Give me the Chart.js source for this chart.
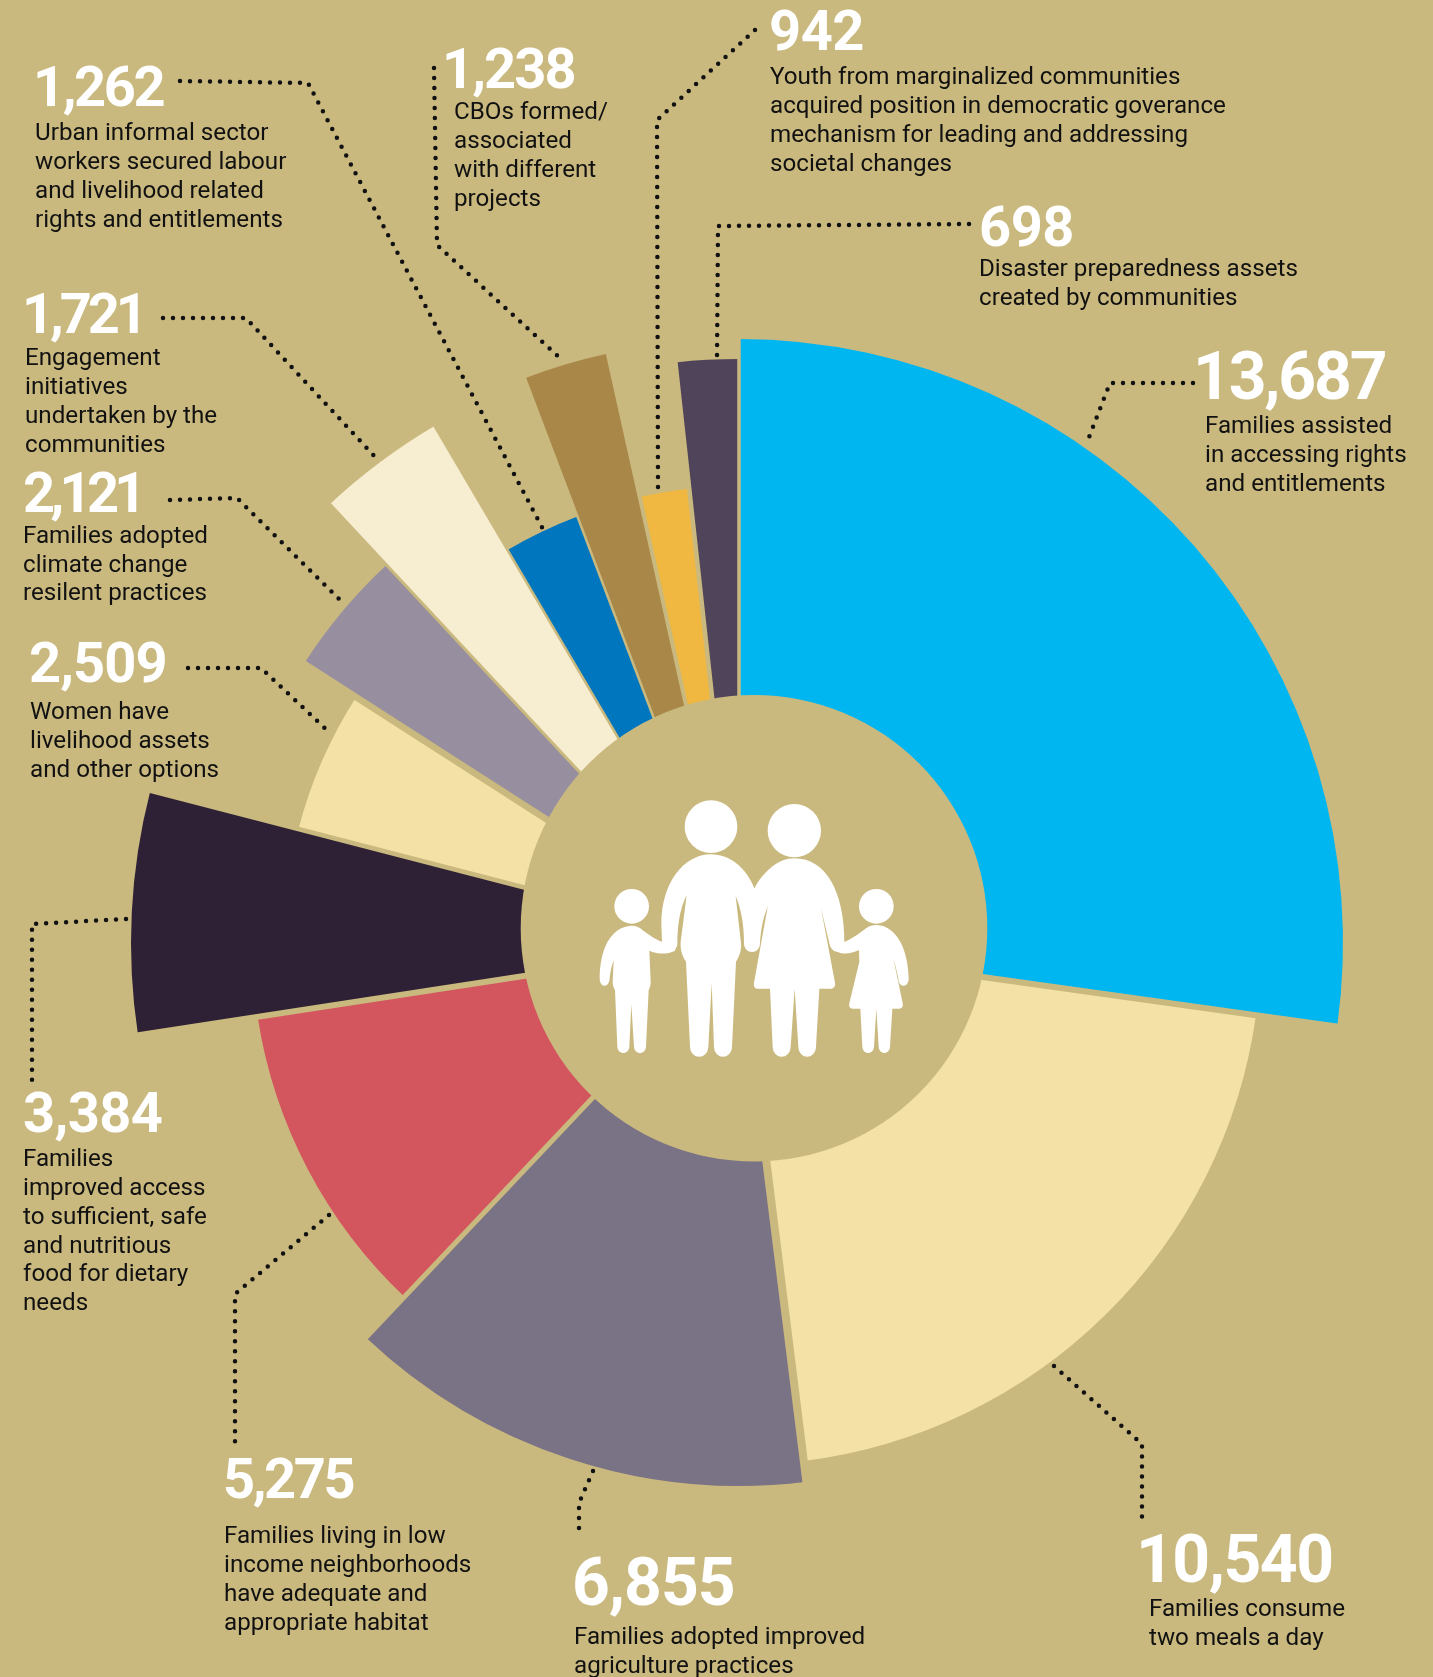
<!DOCTYPE html>
<html><head><meta charset="utf-8">
<script src="https://cdn.jsdelivr.net/npm/chart.js@4"></script>
<style>
html,body{margin:0;padding:0;background:#CAB97E;}
#wrap{position:relative;width:1433px;height:1677px;overflow:hidden;background:#CAB97E;}
canvas{position:absolute;left:0;top:0;}
.num{position:absolute;color:#fff;font-family:Roboto,sans-serif;font-weight:700;line-height:1;white-space:nowrap;}
.desc{position:absolute;color:#111;font-family:Roboto,sans-serif;font-weight:400;font-size:24.2px;line-height:28.8px;white-space:pre;}
</style></head>
<body><div id="wrap"><canvas id="c" width="1433" height="1677"></canvas></div>
<script>
// Data, clockwise from 12 o'clock
const families = [13687,10540,6855,5275,3384,2509,2121,1721,1262,1238,942,698];
const sweepDeg = [97.95,74.92,50.53,37.88,23.22,18.2,14.3,12.5,9.75,8.2,6.3,6.25];
const reach    = [604,522,543,487,608,455,517,600,456,604,457,584];
const captions = [
 "Families assisted\nin accessing rights\nand entitlements",
 "Families consume\ntwo meals a day",
 "Families adopted improved\nagriculture practices",
 "Families living in low\nincome neighborhoods\nhave adequate and\nappropriate habitat",
 "Families\nimproved access\nto sufficient, safe\nand nutritious\nfood for dietary\nneeds",
 "Women have\nlivelihood assets\nand other options",
 "Families adopted\nclimate change\nresilent practices",
 "Engagement\ninitiatives\nundertaken by the\ncommunities",
 "Urban informal sector\nworkers secured labour\nand livelihood related\nrights and entitlements",
 "CBOs formed/\nassociated\nwith different\nprojects",
 "Youth from marginalized communities\nacquired position in democratic goverance\nmechanism for leading and addressing\nsocietal changes",
 "Disaster preparedness assets\ncreated by communities"
];
const sliceColors = ["#00B6F0","#F4E1A6","#7A7285","#D3565E","#2E2135","#F4E1A6","#978F9F","#F7EDD0","#0076BE","#A98749","#F0B840","#50445A"];
const BG = "#CAB97E";
// Width of the background-coloured gap on each slice's leading edge
const gapBefore = [3.5,6,8,5,6,4.5,6.5,3,2.5,2.5,4,4.5];

// Text placement: [number x, number baseline, number size, letter spacing, caption x, first caption baseline]
const labelPlace = [
 [1193,400,66,-2.2,1205,434],[1136,1583,66,-1.5,1149,1617],[572,1606,66,-1,574,1645],[223,1498,56,-2.4,224,1544],
 [23,1132,56,-0.6,23,1167],[29,682,56,-0.9,30,720],[23,512,56,-4.7,23,543.5],[22,333,56,-4.1,25,366],
 [33,106,56,-2.4,35,141],[442,88,56,-1.9,454,120],[769,50,56,-0.5,770,85],[979,246,56,-0.5,979,277]
];
// Dotted leader routes
const leaders = [
 [[1193,383],[1110,383],[1086,445]],
 [[1054,1366],[1142,1444],[1142,1523]],
 [[593,1471],[579,1503],[579,1536]],
 [[329,1215],[235,1294],[235,1448]],
 [[126,919],[32,924],[32,1084]],
 [[188,668],[261,668],[329,732]],
 [[170,500],[237,498],[343,603]],
 [[163,318],[246,318],[377,459]],
 [[180,81],[308,83],[544,531]],
 [[434,68],[437,245],[562,360]],
 [[755,30],[657,120],[658,490]],
 [[969,224],[718,226],[717,358]]
];
const hub = {x:754,y:928.3,r:233.3};

function drawFamily(ctx){
  ctx.save();
  ctx.translate(560,760);ctx.scale(1/3,1/3);
  ctx.fillStyle="#fff";
  for(const [x,y,r] of [[453,200,79],[703,212,80],[215,439,52],[949,439,52]]){
    ctx.beginPath();ctx.arc(x,y,r,0,Math.PI*2);ctx.fill();
  }
  const paths=[
  "M453 283C370 283 305 370 304 490L306 545C312 572 345 582 352 555C352 500 358 450 380 405L362 545C360 570 368 590 378 605L390 860C392 900 443 900 445 860L455 670L462 860C464 900 514 900 516 860L528 605C538 590 545 570 543 550L527 408C545 450 552 500 552 550C552 585 600 585 600 550C602 510 610 470 623 440L660 380L583 385C560 325 510 283 453 283Z",
  "M703 295C800 295 853 400 853 545C853 585 812 585 807 545L783 445L825 668C827 680 820 686 810 686L778 686L768 860C766 900 717 900 715 860L704 686L692 860C690 900 640 900 638 860L630 686L595 686C585 686 580 680 582 668L623 440L583 385C610 335 655 295 703 295Z",
  "M215 497C150 500 120 570 119 655C119 685 148 685 149 655C150 640 154 620 161 600L158 665C158 675 160 682 165 690L172 860C174 885 206 885 208 860L214 733L222 860C224 885 256 885 258 860L266 690C270 682 272 675 272 665L268 572C290 582 320 585 345 572L352 550L305 545C280 535 265 522 250 512C240 502 228 497 215 497Z",
  "M950 495C1010 497 1045 570 1046 655C1046 685 1015 685 1015 655C1012 640 1006 615 1000 595L1028 730C1030 740 1025 746 1018 746L997 746L990 860C988 885 958 885 956 860L949 746L942 860C940 885 909 885 907 860L901 746L878 746C870 746 866 740 868 730L898 605L897 570C870 582 850 585 825 572L807 545L855 545C880 535 905 515 918 505C928 498 938 495 950 495Z"
  ];
  for(const d of paths){ctx.fill(new Path2D(d));}
  ctx.restore();
}

const overlay={
  id:"overlay",
  afterDatasetsDraw(chart){
    const ctx=chart.ctx;
    const arcs=chart.getDatasetMeta(0).data;
    ctx.save();
    ctx.strokeStyle=BG;
    arcs.forEach((arc,i)=>{
      const prev=arcs[(i+arcs.length-1)%arcs.length];
      const R=Math.max(arc.outerRadius,prev.outerRadius)+3;
      ctx.lineWidth=gapBefore[i];
      ctx.beginPath();ctx.moveTo(arc.x,arc.y);
      ctx.lineTo(arc.x+Math.cos(arc.startAngle)*R,arc.y+Math.sin(arc.startAngle)*R);
      ctx.stroke();
    });
    ctx.fillStyle=BG;
    ctx.beginPath();ctx.arc(hub.x,hub.y,hub.r,0,Math.PI*2);ctx.fill();
    drawFamily(ctx);
    ctx.strokeStyle="#111";ctx.lineWidth=4.5;ctx.lineCap="round";ctx.setLineDash([0,10]);
    for(const route of leaders){
      ctx.beginPath();
      route.forEach((p,i)=>i?ctx.lineTo(p[0],p[1]):ctx.moveTo(p[0],p[1]));
      ctx.stroke();
    }
    ctx.restore();
  }
};

new Chart(document.getElementById("c"),{
  type:"polarArea",
  data:{labels:captions.map(c=>c.replace(/\n/g," ")),
    datasets:[{data:reach,backgroundColor:sliceColors,borderWidth:0,
      angle:ctx=>sweepDeg[ctx.dataIndex]}]},
  options:{responsive:false,animation:false,
    layout:{padding:{left:46,top:209,right:0,bottom:0}},
    plugins:{legend:{display:false},tooltip:{enabled:false}},
    scales:{r:{display:false,min:0,max:693,startAngle:0}}},
  plugins:[overlay]
});

const wrap=document.getElementById("wrap");
families.forEach((v,i)=>{
  const [nx,nb,ns,ls,cx,cb]=labelPlace[i];
  const n=document.createElement("div");n.className="num";
  n.textContent=v.toLocaleString("en-US");
  n.style.left=nx+"px";n.style.top=(nb-0.8415*ns)+"px";n.style.fontSize=ns+"px";n.style.letterSpacing=ls+"px";
  wrap.appendChild(n);
  const d=document.createElement("div");d.className="desc";
  d.textContent=captions[i];
  d.style.left=cx+"px";d.style.top=(cb-22.7)+"px";
  wrap.appendChild(d);
});
</script></body></html>
